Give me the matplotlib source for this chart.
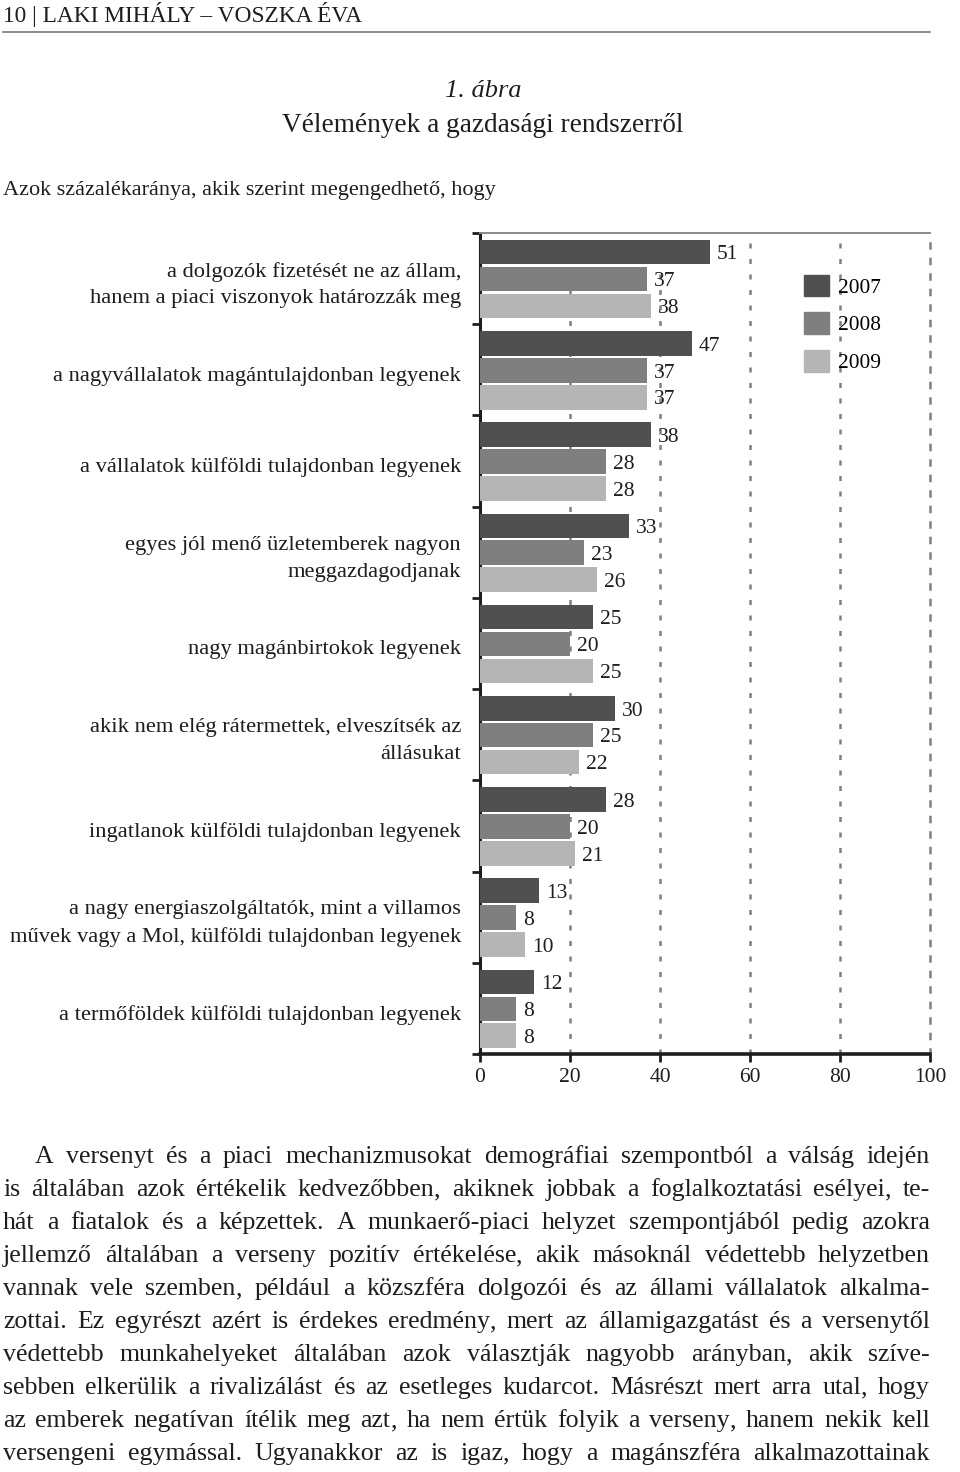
import matplotlib
matplotlib.use("Agg")
import matplotlib.pyplot as plt
from matplotlib.patches import Patch
from matplotlib.transforms import blended_transform_factory

plt.rcParams['font.family'] = ['Liberation Serif', 'DejaVu Serif']

W, H = 960, 1472

# data
categories = [
    "a dolgozók fizetését ne az állam,\nhanem a piaci viszonyok határozzák meg",
    "a nagyvállalatok magántulajdonban legyenek",
    "a vállalatok külföldi tulajdonban legyenek",
    "egyes jól menő üzletemberek nagyon\nmeggazdagodjanak",
    "nagy magánbirtokok legyenek",
    "akik nem elég rátermettek, elveszítsék az\nállásukat",
    "ingatlanok külföldi tulajdonban legyenek",
    "a nagy energiaszolgáltatók, mint a villamos\nművek vagy a Mol, külföldi tulajdonban legyenek",
    "a termőföldek külföldi tulajdonban legyenek",
]
years = ["2007", "2008", "2009"]
v2007 = [51, 47, 38, 33, 25, 30, 28, 13, 12]
v2008 = [37, 37, 28, 23, 20, 25, 20, 8, 8]
v2009 = [38, 37, 28, 26, 25, 22, 21, 10, 8]
xticks = [0, 20, 40, 60, 80, 100]

paragraph = [
    "A versenyt és a piaci mechanizmusokat demográfiai szempontból a válság idején",
    "is általában azok értékelik kedvezőbben, akiknek jobbak a foglalkoztatási esélyei, te-",
    "hát a fiatalok és a képzettek. A munkaerő-piaci helyzet szempontjából pedig azokra",
    "jellemző általában a verseny pozitív értékelése, akik másoknál védettebb helyzetben",
    "vannak vele szemben, például a közszféra dolgozói és az állami vállalatok alkalma-",
    "zottai. Ez egyrészt azért is érdekes eredmény, mert az államigazgatást és a versenytől",
    "védettebb munkahelyeket általában azok választják nagyobb arányban, akik szíve-",
    "sebben elkerülik a rivalizálást és az esetleges kudarcot. Másrészt mert arra utal, hogy",
    "az emberek negatívan ítélik meg azt, ha nem értük folyik a verseny, hanem nekik kell",
    "versengeni egymással. Ugyanakkor az is igaz, hogy a magánszféra alkalmazottainak",
]

colors = ["#505050", "#7f7f7f", "#b5b5b5"]
txt = '#1e1e1e'


def fx(px):
    return px / W


def fy(py):
    return 1 - py / H


fig = plt.figure(figsize=(W / 100, H / 100), dpi=100)

# page header
fig.text(fx(3), fy(22), "10 | LAKI MIHÁLY – VOSZKA ÉVA", fontsize=16.8,
         ha='left', va='baseline', color=txt)
fig.add_artist(plt.Line2D([fx(3), fx(930)], [fy(32), fy(32)], color='#777777', lw=1.2))

fig.text(fx(483), fy(91), "1. ábra", fontsize=19, style='italic',
         ha='center', va='center', color=txt)
fig.text(fx(483), fy(125), "Vélemények a gazdasági rendszerről", fontsize=19.6,
         ha='center', va='center', color=txt)
fig.text(fx(3), fy(191), "Azok százalékaránya, akik szerint megengedhető, hogy",
         fontsize=16, ha='left', va='center', color=txt)

# chart
ax = fig.add_axes([fx(480), fy(1054), fx(930) - fx(480), (1054 - 233) / H])
n = len(categories)
offsets = [0.21, 0.505, 0.80]
series = [v2007, v2008, v2009]
for k, vals in enumerate(series):
    ys = [i + offsets[k] for i in range(n)]
    ax.barh(ys, vals, height=0.27, color=colors[k], zorder=3, label=years[k])
    for y, v in zip(ys, vals):
        ax.text(v + 1.6, y + 0.03, str(v), fontsize=15.5, va='center', ha='left',
                color=txt, zorder=4)

ax.set_xlim(0, 100)
ax.set_ylim(n, 0)
for x in xticks[1:-1]:
    ax.axvline(x, color='#808080', lw=1.8, dashes=(2, 4.2), zorder=1)

ax.spines['top'].set_color('#8a8a8a')
ax.spines['top'].set_linewidth(1.4)
ax.spines['right'].set_color('#808080')
ax.spines['right'].set_linewidth(1.8)
ax.spines['right'].set_linestyle((0, (2, 4.2)))
ax.spines['left'].set_color(txt)
ax.spines['left'].set_linewidth(2.2)
ax.spines['bottom'].set_color(txt)
ax.spines['bottom'].set_linewidth(2.6)

ax.set_xticks(xticks)
ax.set_xticklabels([str(t) for t in xticks], fontsize=15.5, color=txt)
ax.tick_params(axis='x', length=6, width=2, color=txt, pad=4)
ax.set_yticks(range(n + 1))
ax.set_yticklabels([])
ax.tick_params(axis='y', length=6, width=2, color=txt)

# category labels
tr = blended_transform_factory(fig.transFigure, ax.transData)
for i, c in enumerate(categories):
    fig.text(fx(461), i + 0.57, c, fontsize=16.2, ha='right', va='center',
             linespacing=1.55, color=txt, transform=tr)

handles = [Patch(color=c) for c in colors]
ax.legend(handles, years, loc='upper left',
          bbox_to_anchor=((805 - 480) / 450 - 0.022, (1054 - 266) / 821),
          frameon=False, fontsize=15.4, handlelength=1.2, handleheight=1.2,
          labelspacing=0.68, handletextpad=0.42, borderaxespad=0)

# justified paragraph (trailing commas drawn apart so every word sits on the baseline)
renderer = fig.canvas.get_renderer()
for li, line in enumerate(paragraph):
    x0 = 35 if li == 0 else 3
    x1 = 930
    yb = 1163 + li * 33
    words = []
    for w in line.split():
        if w.endswith(',') and len(w) > 1:
            parts = [w[:-1], ',']
        else:
            parts = [w]
        texts = [fig.text(0, fy(yb), p, fontsize=18.6, ha='left', va='baseline', color=txt)
                 for p in parts]
        widths = [t.get_window_extent(renderer).width for t in texts]
        words.append((texts, widths))
    total = sum(sum(ws) for _, ws in words)
    gap = ((x1 - x0) - total) / (len(words) - 1)
    x = x0
    for texts, widths in words:
        for t, w in zip(texts, widths):
            t.set_x(fx(x))
            x += w
        x += gap

fig.savefig("out.png", dpi=100, facecolor='white')
